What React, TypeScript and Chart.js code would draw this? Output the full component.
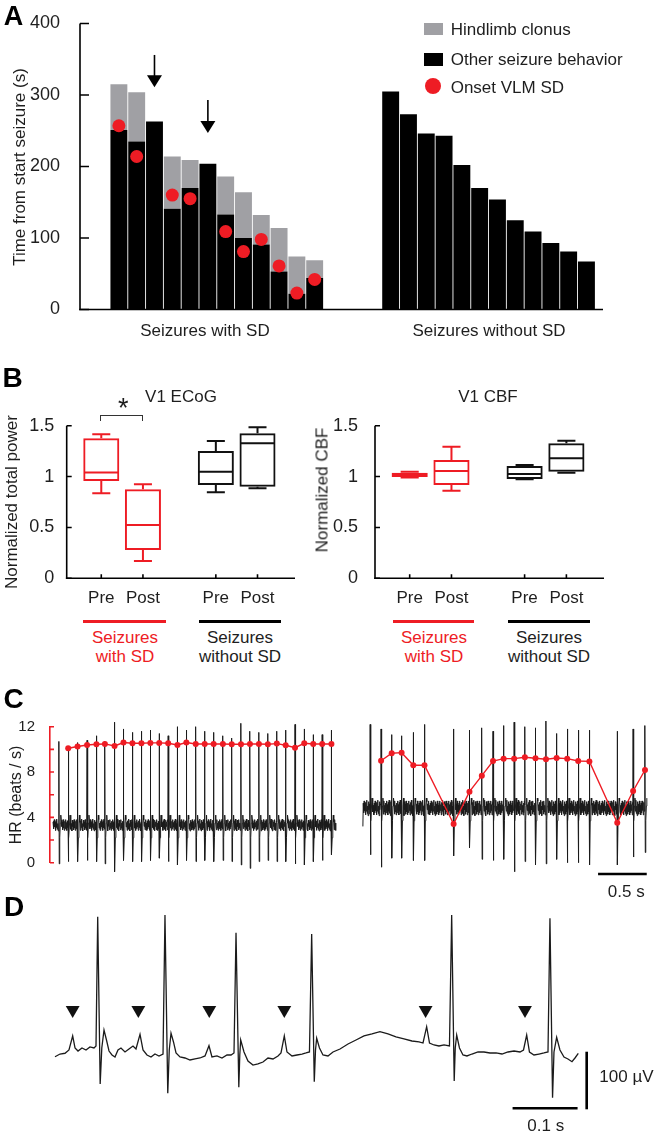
import React, { useEffect, useRef } from 'react';
import { Chart, registerables } from 'chart.js';

Chart.register(...registerables);

const FONT = '"Liberation Sans", Arial, Helvetica, sans-serif';
Chart.defaults.font.family = FONT;
const RED = '#ee1c24';
const GRAY = '#a0a0a4';
const INK = '#1e1e1e';
const BLACK = '#111111';

// ---------- Panel A data (seconds from seizure start) ----------
const WITH_SD_OTHER = [251, 235, 263, 141, 170, 204, 133, 100, 91, 53, 22, 44];
const WITH_SD_CLONUS = [64, 69, null, 73, 39, null, 53, 64, 41, 61, 52, 25];
const WITH_SD_ONSET = [257, 214, null, 160, 155, null, 109, 81, 98, 61, 23, 42];
const WITHOUT_SD_OTHER = [305, 273, 246, 243, 202, 170, 154, 125, 109, 93, 81, 67];
const ARROW_BAR = [2, 5];
const ARROW_FROM = [356, 293];
const ARROW_TO = [311, 247];
const A_Y_TICKS = [0, 100, 200, 300, 400];
const GROUP_GAP = 3.27;

// ---------- Panel B data (box plots: min, q1, median, q3, max) ----------
const BOX_LABELS = ['Pre', 'Post', 'Pre', 'Post'];
const BOX_X = [1, 2, 3.75, 4.75];
const BOX_COLORS = [RED, RED, BLACK, BLACK];
const ECOG_MIN = [0.836, 0.17, 0.846, 0.885];
const ECOG_Q1 = [0.957, 0.278, 0.917, 0.901];
const ECOG_MED = [1.04, 0.524, 1.048, 1.327];
const ECOG_Q3 = [1.377, 0.875, 1.252, 1.426];
const ECOG_MAX = [1.416, 0.924, 1.35, 1.485];
const CBF_MIN = [0.99, 0.861, 0.973, 1.038];
const CBF_Q1 = [0.996, 0.917, 0.976, 1.048];
const CBF_MED = [1.016, 1.055, 1.025, 1.18];
const CBF_Q3 = [1.038, 1.163, 1.104, 1.327];
const CBF_MAX = [1.048, 1.294, 1.114, 1.353];

// ---------- Panel C data (time in s, HR in beats/s) ----------
const LEFT_SPIKE_T = [0.092, 0.187, 0.283, 0.381, 0.477, 0.564, 0.663, 0.755, 0.847, 0.939, 1.031, 1.122, 1.214, 1.309, 1.401, 1.497, 1.589, 1.681, 1.776, 1.867, 1.962, 2.054, 2.146, 2.238, 2.33, 2.421, 2.517, 2.612, 2.704, 2.796, 2.891];
const LEFT_TOP = [10.7, 10.2, 10.6, 10.8, 11.2, 10.7, 12.4, 11.8, 11.5, 11.6, 11.7, 11.4, 11.2, 12.0, 11.7, 12.0, 11.6, 11.5, 11.2, 11.0, 12.3, 11.6, 11.5, 11.4, 11.6, 11.7, 12.2, 11.8, 11.3, 11.3, 11.7];
const LEFT_BOTTOM = [-0.1, 0.1, 0.1, 0.2, 0.1, -0.1, -0.8, 0.2, 0.1, 0.1, 0.2, 0.4, 0.1, -0.2, 0.2, 0.1, 0.2, 0.1, 0.2, 0.1, -0.2, -0.5, 0.1, 0.2, 0.1, 0.1, -0.1, -0.2, 0.1, 0.2, 0.7];
const LEFT_HR = [10.1, 10.25, 10.39, 10.45, 10.48, 10.3, 10.6, 10.54, 10.54, 10.57, 10.57, 10.54, 10.39, 10.6, 10.48, 10.48, 10.48, 10.48, 10.45, 10.45, 10.48, 10.48, 10.45, 10.51, 10.36, 10.15, 10.54, 10.48, 10.48, 10.48];
const RIGHT_SPIKE_T = [3.289, 3.401, 3.51, 3.612, 3.732, 3.847, 4.146, 4.309, 4.436, 4.551, 4.66, 4.768, 4.878, 4.987, 5.095, 5.204, 5.313, 5.426, 5.541, 5.827, 5.99, 6.112];
const RIGHT_TOP = [12.2, 11.8, 11.3, 11.2, 11.5, 12.2, 11.8, 11.7, 11.9, 11.6, 12.1, 12.4, 12.0, 11.9, 12.5, 11.4, 11.8, 11.7, 11.7, 11.6, 11.8, 12.1];
const RIGHT_BOTTOM = [0.7, -0.4, 0.4, 0.4, 0.2, 0.2, 0.6, 1.3, 0.3, 0.2, 0.3, -0.8, 0.1, -0.2, -0.1, 0.3, 0.0, 0.0, -0.2, -0.2, 0.5, 0.9];
const RIGHT_HR = [9.0, 9.66, 9.71, 8.6, 8.6, 3.42, 6.27, 7.68, 8.97, 9.18, 9.18, 9.3, 9.21, 9.13, 9.24, 9.18, 8.97, 8.94, 3.53, 6.33, 8.18];
const LEFT_BASE = 3.3;
const RIGHT_BASE = 4.8;
const C_NOISE = [0.35, -0.3, 0.5, -0.15, 0.25, -0.45, 0.4, -0.2, 0.55, -0.35, 0.15, -0.5, 0.45, -0.1, 0.3, -0.4, 0.5, -0.25, 0.2, -0.45];
const C_Y_TICKS = [0, 4, 8, 12];

// ---------- Panel D data (time in ms, voltage in µV) ----------
const D_TIME_MS = [0, 7.7, 15.4, 21.5, 27.2, 30.8, 35.4, 41.5, 47.7, 53.8, 60.0, 63.1, 65.7, 69.5, 72.0, 75.4, 79.2, 83.1, 87.7, 92.3, 96.9, 101.5, 107.7, 113.8, 120.0, 124.6, 130.8, 135.4, 141.5, 147.7, 153.8, 160.0, 166.2, 169.2, 173.5, 175.8, 178.5, 182.3, 186.2, 192.3, 200.0, 207.7, 215.4, 223.1, 230.8, 236.9, 241.5, 249.2, 256.9, 264.6, 270.8, 275.4, 278.5, 282.8, 284.3, 285.7, 290.8, 296.9, 304.6, 312.3, 320.0, 327.7, 335.4, 343.1, 347.7, 352.8, 356.9, 364.6, 372.3, 380.0, 386.2, 391.5, 394.9, 398.9, 400.8, 402.6, 406.9, 412.3, 420.0, 427.7, 438.5, 450.8, 463.1, 475.4, 487.7, 500.0, 512.3, 524.6, 536.9, 549.2, 560.0, 566.2, 571.8, 576.2, 583.1, 590.8, 598.5, 606.9, 610.3, 614.2, 615.8, 618.0, 622.3, 627.7, 633.8, 641.5, 650.8, 660.0, 669.2, 678.5, 687.7, 696.9, 706.2, 715.4, 720.8, 725.7, 730.0, 736.9, 744.6, 752.3, 758.5, 761.5, 765.5, 767.7, 771.8, 776.9, 783.1, 789.2, 795.4, 800.0, 805.1];
const D_UV = [-3, 1.7, 3.0, 8.7, 33.0, 12.2, 6.9, 12.2, 8.7, 13.9, 12.2, 15.6, 240.1, -50.3, 12.2, 43.4, 26.0, 6.9, 0, -3.5, 8.7, 12.2, 5.2, 10.4, 15.6, 10.4, 35.9, 8.7, 0, -3.5, 1.7, -1.7, 1.7, 243.1, -66.5, 8.7, 37.7, 22.6, 3.5, -3.5, -5.2, -8.7, -6.9, -5.2, -1.7, 16.1, -3.5, -1.7, -5.2, 0, 0, 3.5, 212.3, -56.1, 0, 26.0, 5.2, -10.4, -17.4, -15.6, -12.2, -5.2, -6.9, -1.7, 3.5, 33.0, 5.2, -1.7, 0, 1.7, 3.5, 5.2, 210.1, -46.4, 8.7, 29.0, 12.2, 0, -1.7, 5.2, 10.4, 19.1, 26.0, 33.0, 36.5, 40.5, 36.5, 31.3, 27.8, 24.3, 22.6, 20.8, 49.1, 20.8, 17.4, 15.6, 17.4, 15.6, 243.1, -45.1, 12.2, 34.7, 12.2, 0, -1.7, 1.7, 5.2, 5.2, 3.5, 3.5, 1.7, 5.2, 6.9, 5.2, 8.7, 34.7, 5.2, 0, 1.7, 3.5, 5.2, 237.3, -74.1, 5.2, 30.7, 8.7, -3.5, -6.9, -11.6, -5.2, 3.0];
const D_MARKER_T = [27.2, 128.2, 237.4, 352.8, 570.2, 723.1];
const D_MARKER_UV = 78;

// ---------- helpers ----------
type Pt = { x: number; y: number };

function buildTrace(spikes: number[], tops: number[], bottoms: number[], base: number, amp: number, start: number, startLevel: number, end: number): Pt[] {
  const STEP = 0.0045;
  const pts: Pt[] = [{ x: start, y: startLevel }];
  let k = 0;
  const texture = (a: number, b: number) => {
    for (let t = a; t < b; t += STEP) {
      pts.push({ x: t, y: base + amp * C_NOISE[k % C_NOISE.length] });
      k++;
    }
  };
  texture(start + 0.004, spikes[0] - 0.003);
  spikes.forEach((t, i) => {
    pts.push({ x: t - 0.002, y: base + 0.3 });
    pts.push({ x: t, y: tops[i] });
    pts.push({ x: t + 0.003, y: bottoms[i] });
    pts.push({ x: t + 0.008, y: base - 1.1 });
    pts.push({ x: t + 0.014, y: base + 0.2 });
    pts.push({ x: t + 0.019, y: base + 0.9 });
    const next = i + 1 < spikes.length ? spikes[i + 1] - 0.003 : end;
    texture(t + 0.024, next);
  });
  return pts;
}

// axis lines + inward tick marks, drawn through the chart's scales
const axesPlugin = (axes: { id: string; len: number; color: string; width?: number; line?: boolean }[]) => ({
  id: 'axesLines',
  afterDatasetsDraw(chart: any) {
    const { ctx, chartArea } = chart;
    axes.forEach((a) => {
      const s = chart.scales[a.id];
      if (!s) return;
      ctx.save();
      ctx.strokeStyle = a.color;
      ctx.lineWidth = a.width || 1.6;
      ctx.lineCap = 'butt';
      ctx.beginPath();
      if (a.line) {
        if (s.isHorizontal()) {
          ctx.moveTo(chartArea.left - 0.8, chartArea.bottom);
          ctx.lineTo(chartArea.right, chartArea.bottom);
        } else {
          ctx.moveTo(chartArea.left, chartArea.top);
          ctx.lineTo(chartArea.left, chartArea.bottom + 0.8);
        }
      }
      if (a.len > 0) {
        s.ticks.forEach((t: any) => {
          const p = s.getPixelForValue(t.value);
          if (s.isHorizontal()) {
            ctx.moveTo(p, chartArea.bottom);
            ctx.lineTo(p, chartArea.bottom - a.len);
          } else {
            ctx.moveTo(chartArea.left, p);
            ctx.lineTo(chartArea.left + a.len, p);
          }
        });
      }
      ctx.stroke();
      ctx.restore();
    });
  },
});

const arrowsPlugin = (xs: number[], froms: number[], tos: number[]) => ({
  id: 'arrows',
  afterDatasetsDraw(chart: any) {
    const { ctx } = chart;
    const { x, y } = chart.scales;
    xs.forEach((xv, i) => {
      const px = x.getPixelForValue(xv);
      const y0 = y.getPixelForValue(froms[i]);
      const y1 = y.getPixelForValue(tos[i]);
      ctx.save();
      ctx.strokeStyle = '#000';
      ctx.fillStyle = '#000';
      ctx.lineWidth = 1.6;
      ctx.beginPath();
      ctx.moveTo(px, y0);
      ctx.lineTo(px, y1 - 10);
      ctx.stroke();
      ctx.beginPath();
      ctx.moveTo(px - 7.5, y1 - 12);
      ctx.lineTo(px + 7.5, y1 - 12);
      ctx.lineTo(px, y1);
      ctx.closePath();
      ctx.fill();
      ctx.restore();
    });
  },
});

const boxExtras = (mins: number[], meds: number[], maxs: number[], colors: string[]) => ({
  id: 'boxExtras',
  afterDatasetsDraw(chart: any) {
    const { ctx } = chart;
    const y = chart.scales.y;
    const meta = chart.getDatasetMeta(0);
    meta.data.forEach((bar: any, i: number) => {
      const x = bar.x;
      const w = bar.width;
      const top = Math.min(bar.y, bar.base);
      const bottom = Math.max(bar.y, bar.base);
      const yMax = y.getPixelForValue(maxs[i]);
      const yMin = y.getPixelForValue(mins[i]);
      const yMed = y.getPixelForValue(meds[i]);
      const cap = w / 4;
      ctx.save();
      ctx.strokeStyle = colors[i];
      ctx.lineWidth = 2;
      ctx.beginPath();
      ctx.moveTo(x, top);
      ctx.lineTo(x, yMax);
      ctx.moveTo(x - cap, yMax);
      ctx.lineTo(x + cap, yMax);
      ctx.moveTo(x, bottom);
      ctx.lineTo(x, yMin);
      ctx.moveTo(x - cap, yMin);
      ctx.lineTo(x + cap, yMin);
      ctx.moveTo(x - w / 2 + 1, yMed);
      ctx.lineTo(x + w / 2 - 1, yMed);
      ctx.stroke();
      ctx.restore();
    });
  },
});

const scaleBars = (bars: { x0: number; x1: number; y0: number; y1: number }[]) => ({
  id: 'scaleBars',
  afterDatasetsDraw(chart: any) {
    const { ctx } = chart;
    const { x, y } = chart.scales;
    ctx.save();
    ctx.strokeStyle = '#000';
    ctx.lineWidth = 2.6;
    bars.forEach((b) => {
      ctx.beginPath();
      ctx.moveTo(x.getPixelForValue(b.x0), y.getPixelForValue(b.y0));
      ctx.lineTo(x.getPixelForValue(b.x1), y.getPixelForValue(b.y1));
      ctx.stroke();
    });
    ctx.restore();
  },
});

function ChartBox({ left, top, width, height, make }: { left: number; top: number; width: number; height: number; make: () => any }) {
  const ref = useRef<HTMLCanvasElement>(null);
  useEffect(() => {
    const chart = new Chart(ref.current as HTMLCanvasElement, make());
    return () => chart.destroy();
  }, []);
  return <canvas ref={ref} width={width} height={height} style={{ position: 'absolute', left, top, width, height }} />;
}

function Label({ x, y, text, size = 17, color = INK, bold = false, align = 'center', rotate = 0 }: any) {
  const tx = align === 'left' ? '0' : '-50%';
  return (
    <div
      style={{
        position: 'absolute',
        left: x,
        top: y,
        transform: `translate(${tx}, -50%) rotate(${rotate}deg)`,
        fontSize: size,
        lineHeight: 1,
        whiteSpace: 'nowrap',
        color,
        fontWeight: bold ? 'bold' : 'normal',
        fontFamily: FONT,
      }}
    >
      {text}
    </div>
  );
}

// ---------- chart configs ----------
const LEFT_X = WITH_SD_OTHER.map((_, i) => i + 1);
const RIGHT_X = WITHOUT_SD_OTHER.map((_, i) => i + 13 + GROUP_GAP);

function makeA() {
  const black = [
    ...WITH_SD_OTHER.map((v, i) => ({ x: LEFT_X[i], y: v })),
    ...WITHOUT_SD_OTHER.map((v, i) => ({ x: RIGHT_X[i], y: v })),
  ];
  const gray = WITH_SD_CLONUS.map((v, i) => (v == null ? null : { x: LEFT_X[i], y: [WITH_SD_OTHER[i], WITH_SD_OTHER[i] + v] })).filter(Boolean);
  const dots = WITH_SD_ONSET.map((v, i) => (v == null ? null : { x: LEFT_X[i], y: v })).filter(Boolean);
  const barStyle = { borderWidth: 0, barPercentage: 0.95, categoryPercentage: 1, grouped: false };
  return {
    type: 'bar',
    data: {
      datasets: [
        { type: 'scatter', label: 'Onset VLM SD', data: dots, pointRadius: 6.5, pointHoverRadius: 6.5, backgroundColor: RED, borderColor: RED, pointBorderWidth: 0, order: 0 },
        { label: 'Other seizure behavior', data: black, backgroundColor: '#000', order: 1, ...barStyle },
        { label: 'Hindlimb clonus', data: gray, backgroundColor: GRAY, order: 2, ...barStyle },
      ],
    },
    options: {
      animation: false,
      responsive: false,
      events: [],
      layout: { padding: { left: 0, top: 23.5, right: 53, bottom: 25.5 } },
      plugins: { legend: { display: false }, tooltip: { enabled: false } },
      scales: {
        x: {
          type: 'linear', min: -1.185, max: 28.2, offset: false,
          grid: { display: false }, ticks: { display: false },
          border: { display: false },
          afterFit: (s: any) => { s.height = 10; },
        },
        y: {
          min: 0, max: 400,
          afterBuildTicks: (s: any) => { s.ticks = A_Y_TICKS.map((v) => ({ value: v })); },
          ticks: { padding: 12, color: INK, font: { size: 18 } },
          grid: { display: false },
          border: { display: false },
          afterFit: (s: any) => { s.width = 80; },
        },
      },
    },
    plugins: [
      axesPlugin([{ id: 'y', len: 9, color: '#000', line: true }, { id: 'x', len: 0, color: '#000', line: true }]),
      arrowsPlugin(ARROW_BAR.map((b) => LEFT_X[b]), ARROW_FROM, ARROW_TO),
    ],
  };
}

function makeBox(q1: number[], q3: number[], med: number[], mn: number[], mx: number[], yWidth: number, padRight: number, labelPad: number) {
  return () => ({
    type: 'bar',
    data: {
      datasets: [
        {
          data: q1.map((v, i) => ({ x: BOX_X[i], y: [v, q3[i]] })),
          backgroundColor: 'rgba(0,0,0,0)',
          borderColor: BOX_COLORS,
          borderWidth: 2,
          borderSkipped: false,
          barPercentage: 0.865,
          categoryPercentage: 1,
        },
      ],
    },
    options: {
      animation: false,
      responsive: false,
      events: [],
      layout: { padding: { left: 0, top: 45.7, right: padRight, bottom: 11.7 } },
      plugins: { legend: { display: false }, tooltip: { enabled: false } },
      scales: {
        x: {
          type: 'linear', min: 0.17, max: 5.65, offset: false,
          afterBuildTicks: (s: any) => { s.ticks = BOX_X.map((v) => ({ value: v })); },
          ticks: { callback: (_v: any, i: number) => BOX_LABELS[i], padding: 1.5, color: INK, font: { size: 17 }, autoSkip: false, maxRotation: 0 },
          grid: { display: false },
          border: { display: false },
          afterFit: (s: any) => { s.height = 30; },
        },
        y: {
          min: 0, max: 1.5,
          ticks: { stepSize: 0.5, callback: (v: any) => String(v), padding: labelPad, color: INK, font: { size: 18 } },
          grid: { display: false },
          border: { display: false },
          afterFit: (s: any) => { s.width = yWidth; },
        },
      },
    },
    plugins: [
      axesPlugin([{ id: 'y', len: 5, color: '#000', line: true }, { id: 'x', len: 4, color: '#000', line: true }]),
      boxExtras(mn, med, mx, BOX_COLORS),
    ],
  });
}

function makeC() {
  const left = buildTrace(LEFT_SPIKE_T, LEFT_TOP, LEFT_BOTTOM, LEFT_BASE, 1.0, 0.031, 3.6, 2.94);
  const right = buildTrace(RIGHT_SPIKE_T, RIGHT_TOP, RIGHT_BOTTOM, RIGHT_BASE, 1.3, 3.214, 3.2, 6.135);
  const hrL = LEFT_HR.map((v, i) => ({ x: LEFT_SPIKE_T[i + 1], y: v }));
  const hrR = RIGHT_HR.map((v, i) => ({ x: RIGHT_SPIKE_T[i + 1], y: v }));
  const hrStyle = { borderColor: RED, backgroundColor: RED, borderWidth: 1.4, pointRadius: 3, pointBorderWidth: 0, clip: false, order: 0 };
  const trStyle = { borderColor: '#1b1b1b', borderWidth: 1, pointRadius: 0, clip: false, order: 1 };
  return {
    type: 'line',
    data: {
      datasets: [
        { label: 'HR before', data: hrL, ...hrStyle },
        { label: 'HR after', data: hrR, ...hrStyle },
        { label: 'ECG before', data: left, ...trStyle },
        { label: 'ECG after', data: right, ...trStyle },
      ],
    },
    options: {
      animation: false,
      responsive: false,
      events: [],
      layout: { padding: { left: 0, top: 46.7, right: 0, bottom: 37.3 } },
      plugins: { legend: { display: false }, tooltip: { enabled: false } },
      scales: {
        x: { type: 'linear', min: 0, max: 6.184, display: false },
        y: {
          min: 0, max: 12,
          ticks: { stepSize: 2, callback: (v: any) => (C_Y_TICKS.includes(v) ? String(v) : ''), padding: 7, color: INK, font: { size: 15 } },
          grid: { display: false },
          border: { display: true, color: RED, width: 1.6 },
          afterFit: (s: any) => { s.width = 50; },
        },
      },
    },
    plugins: [axesPlugin([{ id: 'y', len: 4, color: RED }]), scaleBars([{ x0: 5.63, x1: 6.13, y0: -1.0, y1: -1.0 }])],
  };
}

function makeD() {
  return {
    type: 'line',
    data: {
      datasets: [
        {
          type: 'scatter', label: 'P waves', data: D_MARKER_T.map((t) => ({ x: t, y: D_MARKER_UV })),
          pointStyle: 'triangle', pointRotation: 180, pointRadius: 8, backgroundColor: '#111', borderColor: '#111', pointBorderWidth: 0, clip: false,
        },
        {
          label: 'ECG', data: D_TIME_MS.map((t, i) => ({ x: t, y: D_UV[i] })),
          borderColor: '#1b1b1b', borderWidth: 1.3, pointRadius: 0, clip: false,
        },
      ],
    },
    options: {
      animation: false,
      responsive: false,
      events: [],
      layout: { padding: { left: 55, top: 20, right: 56, bottom: 22 } },
      plugins: { legend: { display: false }, tooltip: { enabled: false } },
      scales: {
        x: { type: 'linear', min: 0, max: 838.5, display: false },
        y: { min: -95.5, max: 269.1, display: false },
      },
    },
    plugins: [scaleBars([{ x0: 704, x1: 804, y0: -92.5, y1: -92.5 }, { x0: 818, x1: 818, y0: 5.7, y1: -94.3 }])],
  };
}

export default function App() {
  return (
    <div style={{ position: 'absolute', left: 0, top: 0, width: 656, height: 1132, background: '#fff', overflow: 'hidden', fontFamily: FONT }}>
      <ChartBox left={0} top={0} width={656} height={345} make={makeA} />
      <ChartBox left={0} top={380} width={330} height={240} make={makeBox(ECOG_Q1, ECOG_Q3, ECOG_MED, ECOG_MIN, ECOG_MAX, 66.7, 35, 4.5)} />
      <ChartBox left={330} top={380} width={326} height={240} make={makeBox(CBF_Q1, CBF_Q3, CBF_MED, CBF_MIN, CBF_MAX, 45, 52, 9)} />
      <ChartBox left={0} top={680} width={656} height={220} make={makeC} />
      <ChartBox left={0} top={880} width={656} height={252} make={makeD} />

      {/* Panel letters */}
      <Label x={13.5} y={15.5} text="A" size={27} bold color="#000" />
      <Label x={12.5} y={377.5} text="B" size={28} bold color="#000" />
      <Label x={13.5} y={699} text="C" size={28} bold color="#000" />
      <Label x={14} y={906.5} text="D" size={28} bold color="#000" />

      {/* Panel A */}
      <Label x={19} y={166.5} text="Time from start seizure (s)" rotate={-90} />
      <Label x={205} y={330} text="Seizures with SD" />
      <Label x={489} y={330} text="Seizures without SD" />
      <div style={{ position: 'absolute', left: 424, top: 22.7, width: 18.5, height: 12.6, background: GRAY }} />
      <div style={{ position: 'absolute', left: 424, top: 53.3, width: 18.5, height: 12.4, background: '#000' }} />
      <div style={{ position: 'absolute', left: 425.3, top: 78, width: 16, height: 16, borderRadius: '50%', background: RED }} />
      <Label x={450.7} y={29.3} text="Hindlimb clonus" align="left" />
      <Label x={450.7} y={59.3} text="Other seizure behavior" align="left" />
      <Label x={450.7} y={87.3} text="Onset VLM SD" align="left" />

      {/* Panel B */}
      <Label x={181} y={396} text="V1 ECoG" />
      <Label x={488} y={396} text="V1 CBF" />
      <Label x={123.3} y={407.5} text="*" size={27} />
      <div style={{ position: 'absolute', left: 100, top: 415, width: 43.3, height: 5.5, boxSizing: 'border-box', borderTop: '1.5px solid #333', borderLeft: '1.5px solid #333', borderRight: '1.5px solid #333' }} />
      <Label x={11} y={502} text="Normalized total power" rotate={-90} />
      <Label x={322} y={490} text="Normalized CBF" rotate={-90} />
      <div style={{ position: 'absolute', left: 83.3, top: 619.5, width: 82.4, height: 3, background: RED }} />
      <div style={{ position: 'absolute', left: 199.3, top: 619.5, width: 81.7, height: 3, background: '#000' }} />
      <div style={{ position: 'absolute', left: 392.7, top: 619.5, width: 81.6, height: 3, background: RED }} />
      <div style={{ position: 'absolute', left: 508.3, top: 619.5, width: 81.7, height: 3, background: '#000' }} />
      <Label x={125} y={636.7} text="Seizures" color={RED} />
      <Label x={125} y={656} text="with SD" color={RED} />
      <Label x={240} y={636.7} text="Seizures" />
      <Label x={240} y={656} text="without SD" />
      <Label x={434} y={636.7} text="Seizures" color={RED} />
      <Label x={434} y={656} text="with SD" color={RED} />
      <Label x={549} y={636.7} text="Seizures" />
      <Label x={549} y={656} text="without SD" />

      {/* Panel C */}
      <Label x={16} y={795} text="HR (beats / s)" size={16} rotate={-90} />
      <Label x={626.3} y={890.7} text="0.5 s" />

      {/* Panel D */}
      <Label x={599.3} y={1076} text="100 µV" align="left" />
      <Label x={545.8} y={1125} text="0.1 s" />
    </div>
  );
}
